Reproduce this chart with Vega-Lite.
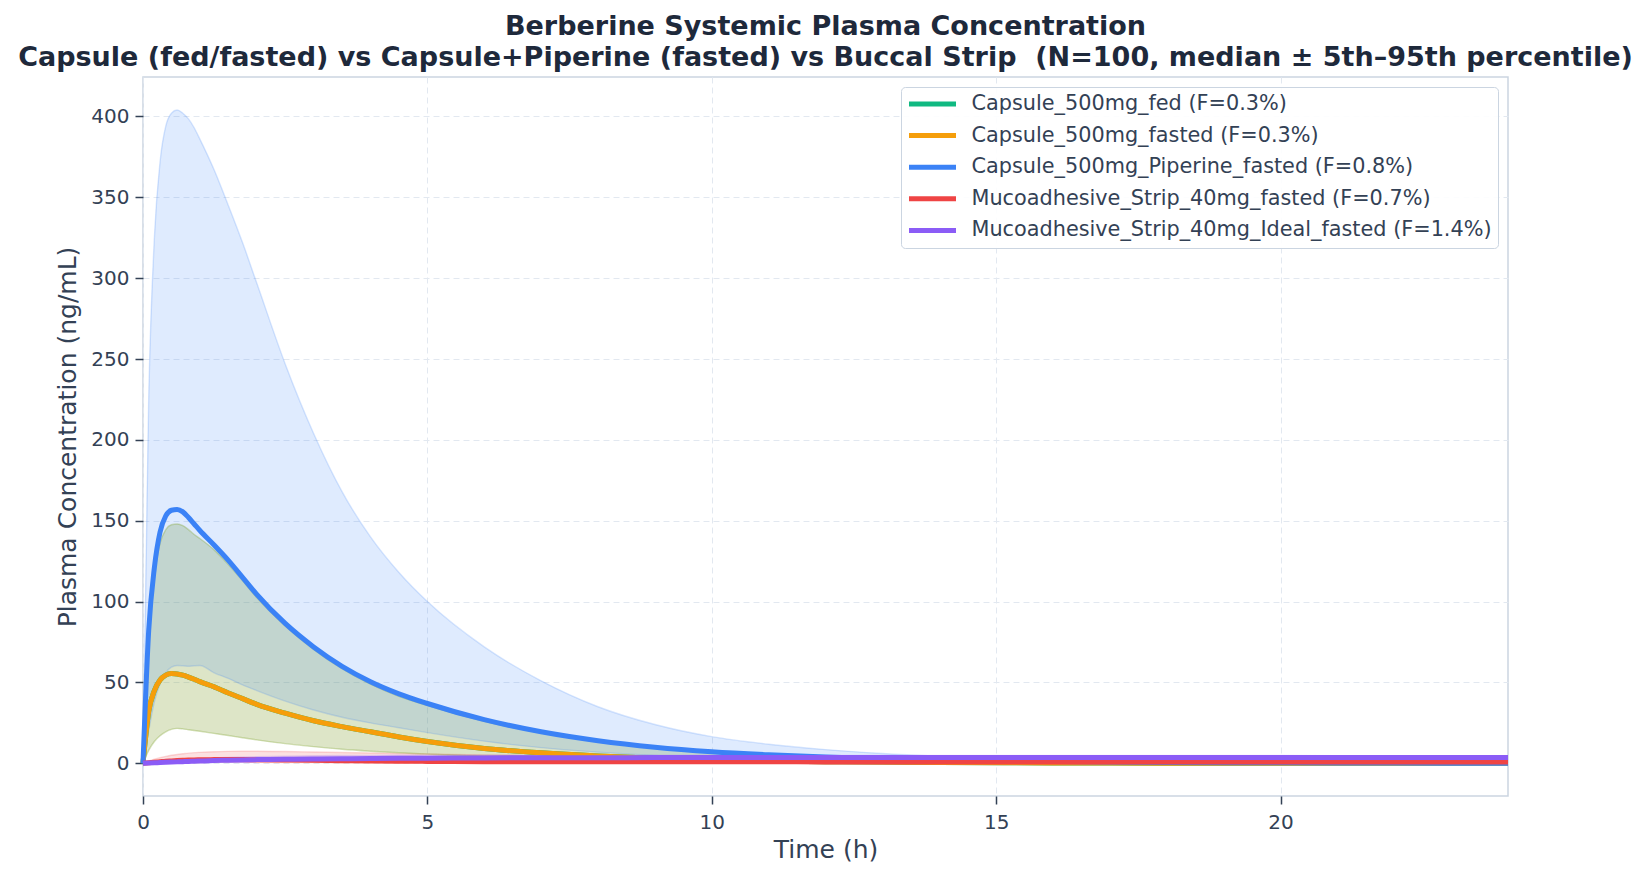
{
  "$schema": "https://vega.github.io/schema/vega-lite/v6.json",
  "autosize": {"type": "none"},
  "padding": {"left": 143, "top": 77, "right": 143, "bottom": 82},
  "width": 1365,
  "height": 719,
  "background": "white",
  "title": {
    "text": ["Berberine Systemic Plasma Concentration", "Capsule (fed/fasted) vs Capsule+Piperine (fasted) vs Buccal Strip \u00a0(N=100, median ± 5th–95th percentile)"],
    "fontSize": 27,
    "fontWeight": "bold",
    "color": "#1e293b",
    "anchor": "middle",
    "frame": "group",
    "offset": 5,
    "lineHeight": 31
  },
  "datasets": {
    "names": [
      {"k": "fed", "label": "Capsule_500mg_fed (F=0.3%)"},
      {"k": "fast", "label": "Capsule_500mg_fasted (F=0.3%)"},
      {"k": "pip", "label": "Capsule_500mg_Piperine_fasted (F=0.8%)"},
      {"k": "strip", "label": "Mucoadhesive_Strip_40mg_fasted (F=0.7%)"},
      {"k": "ideal", "label": "Mucoadhesive_Strip_40mg_Ideal_fasted (F=1.4%)"}
    ],
    "pk": [
      {"k":"fed","t":0,"m":0,"lo":0,"hi":0},
      {"k":"fed","t":0.1,"m":32,"lo":8,"hi":78},
      {"k":"fed","t":0.2,"m":45,"lo":13.5,"hi":116},
      {"k":"fed","t":0.3,"m":51.5,"lo":17,"hi":136},
      {"k":"fed","t":0.4,"m":54.5,"lo":19.5,"hi":144.5},
      {"k":"fed","t":0.5,"m":55.5,"lo":21,"hi":147.5},
      {"k":"fed","t":0.6,"m":55.3,"lo":21.6,"hi":148},
      {"k":"fed","t":0.7,"m":54.5,"lo":21.3,"hi":147},
      {"k":"fed","t":0.8,"m":53.3,"lo":20.8,"hi":144.5},
      {"k":"fed","t":0.9,"m":52,"lo":20.3,"hi":141.5},
      {"k":"fed","t":1,"m":50.5,"lo":19.8,"hi":139},
      {"k":"fed","t":1.25,"m":47.3,"lo":18.5,"hi":132},
      {"k":"fed","t":1.5,"m":43.5,"lo":17.2,"hi":123},
      {"k":"fed","t":1.75,"m":40,"lo":15.8,"hi":113},
      {"k":"fed","t":2,"m":36.5,"lo":14.5,"hi":102.5},
      {"k":"fed","t":2.5,"m":31,"lo":12.2,"hi":85},
      {"k":"fed","t":3,"m":26.3,"lo":10.3,"hi":70.5},
      {"k":"fed","t":3.5,"m":22.7,"lo":8.7,"hi":58.5},
      {"k":"fed","t":4,"m":19.5,"lo":7.5,"hi":49},
      {"k":"fed","t":4.5,"m":16.3,"lo":6.5,"hi":41.5},
      {"k":"fed","t":5,"m":13.5,"lo":5.7,"hi":35.8},
      {"k":"fed","t":6,"m":9.2,"lo":4.2,"hi":26},
      {"k":"fed","t":7,"m":6.5,"lo":3,"hi":18.8},
      {"k":"fed","t":8,"m":4.6,"lo":2.2,"hi":13.5},
      {"k":"fed","t":9,"m":3.2,"lo":1.6,"hi":9.6},
      {"k":"fed","t":10,"m":2.2,"lo":1.2,"hi":6.9},
      {"k":"fed","t":11,"m":1.5,"lo":0.85,"hi":5.1},
      {"k":"fed","t":12,"m":1.05,"lo":0.6,"hi":3.75},
      {"k":"fed","t":13,"m":0.75,"lo":0.42,"hi":2.75},
      {"k":"fed","t":14,"m":0.5,"lo":0.3,"hi":2},
      {"k":"fed","t":16,"m":0.25,"lo":0.15,"hi":1.05},
      {"k":"fed","t":18,"m":0.12,"lo":0.07,"hi":0.54},
      {"k":"fed","t":20,"m":0.06,"lo":0.035,"hi":0.28},
      {"k":"fed","t":22,"m":0.03,"lo":0.017,"hi":0.15},
      {"k":"fed","t":24,"m":0.015,"lo":0.008,"hi":0.075},

      {"k":"fast","t":0,"m":0,"lo":0,"hi":0},
      {"k":"fast","t":0.1,"m":32,"lo":8,"hi":78},
      {"k":"fast","t":0.2,"m":45,"lo":13.5,"hi":116},
      {"k":"fast","t":0.3,"m":51.5,"lo":17,"hi":136},
      {"k":"fast","t":0.4,"m":54.5,"lo":19.5,"hi":144.5},
      {"k":"fast","t":0.5,"m":55.5,"lo":21,"hi":147.5},
      {"k":"fast","t":0.6,"m":55.3,"lo":21.6,"hi":148},
      {"k":"fast","t":0.7,"m":54.5,"lo":21.3,"hi":147},
      {"k":"fast","t":0.8,"m":53.3,"lo":20.8,"hi":144.5},
      {"k":"fast","t":0.9,"m":52,"lo":20.3,"hi":141.5},
      {"k":"fast","t":1,"m":50.5,"lo":19.8,"hi":139},
      {"k":"fast","t":1.25,"m":47.3,"lo":18.5,"hi":132},
      {"k":"fast","t":1.5,"m":43.5,"lo":17.2,"hi":123},
      {"k":"fast","t":1.75,"m":40,"lo":15.8,"hi":113},
      {"k":"fast","t":2,"m":36.5,"lo":14.5,"hi":102.5},
      {"k":"fast","t":2.5,"m":31,"lo":12.2,"hi":85},
      {"k":"fast","t":3,"m":26.3,"lo":10.3,"hi":70.5},
      {"k":"fast","t":3.5,"m":22.7,"lo":8.7,"hi":58.5},
      {"k":"fast","t":4,"m":19.5,"lo":7.5,"hi":49},
      {"k":"fast","t":4.5,"m":16.3,"lo":6.5,"hi":41.5},
      {"k":"fast","t":5,"m":13.5,"lo":5.7,"hi":35.8},
      {"k":"fast","t":6,"m":9.2,"lo":4.2,"hi":26},
      {"k":"fast","t":7,"m":6.5,"lo":3,"hi":18.8},
      {"k":"fast","t":8,"m":4.6,"lo":2.2,"hi":13.5},
      {"k":"fast","t":9,"m":3.2,"lo":1.6,"hi":9.6},
      {"k":"fast","t":10,"m":2.2,"lo":1.2,"hi":6.9},
      {"k":"fast","t":11,"m":1.5,"lo":0.85,"hi":5.1},
      {"k":"fast","t":12,"m":1.05,"lo":0.6,"hi":3.75},
      {"k":"fast","t":13,"m":0.75,"lo":0.42,"hi":2.75},
      {"k":"fast","t":14,"m":0.5,"lo":0.3,"hi":2},
      {"k":"fast","t":16,"m":0.25,"lo":0.15,"hi":1.05},
      {"k":"fast","t":18,"m":0.12,"lo":0.07,"hi":0.54},
      {"k":"fast","t":20,"m":0.06,"lo":0.035,"hi":0.28},
      {"k":"fast","t":22,"m":0.03,"lo":0.017,"hi":0.15},
      {"k":"fast","t":24,"m":0.015,"lo":0.008,"hi":0.075},

      {"k":"pip","t":0,"m":0,"lo":0,"hi":0},
      {"k":"pip","t":0.1,"m":82,"lo":20,"hi":225},
      {"k":"pip","t":0.2,"m":121,"lo":38,"hi":325},
      {"k":"pip","t":0.3,"m":143,"lo":49,"hi":372},
      {"k":"pip","t":0.4,"m":153,"lo":56,"hi":394},
      {"k":"pip","t":0.5,"m":156.5,"lo":59.5,"hi":402},
      {"k":"pip","t":0.6,"m":157,"lo":60.5,"hi":404},
      {"k":"pip","t":0.7,"m":155.5,"lo":60.3,"hi":402},
      {"k":"pip","t":0.8,"m":152,"lo":60,"hi":398.5},
      {"k":"pip","t":0.9,"m":148,"lo":60.3,"hi":393},
      {"k":"pip","t":1,"m":144,"lo":60.5,"hi":386},
      {"k":"pip","t":1.25,"m":135,"lo":56,"hi":367},
      {"k":"pip","t":1.5,"m":125.5,"lo":52.5,"hi":345},
      {"k":"pip","t":1.75,"m":115,"lo":48.5,"hi":322},
      {"k":"pip","t":2,"m":104.5,"lo":45,"hi":297},
      {"k":"pip","t":2.5,"m":86.5,"lo":38.5,"hi":247},
      {"k":"pip","t":3,"m":72,"lo":33,"hi":204},
      {"k":"pip","t":3.5,"m":60,"lo":28.5,"hi":168},
      {"k":"pip","t":4,"m":50.5,"lo":25,"hi":140},
      {"k":"pip","t":4.5,"m":43,"lo":22,"hi":118},
      {"k":"pip","t":5,"m":37,"lo":19,"hi":100},
      {"k":"pip","t":6,"m":27,"lo":13.7,"hi":72},
      {"k":"pip","t":7,"m":19.5,"lo":9.7,"hi":51},
      {"k":"pip","t":8,"m":14,"lo":6.9,"hi":35},
      {"k":"pip","t":9,"m":10,"lo":4.8,"hi":24},
      {"k":"pip","t":10,"m":7.2,"lo":3.4,"hi":16.5},
      {"k":"pip","t":11,"m":5.3,"lo":2.4,"hi":11.8},
      {"k":"pip","t":12,"m":3.9,"lo":1.7,"hi":8.5},
      {"k":"pip","t":13,"m":2.85,"lo":1.2,"hi":6.1},
      {"k":"pip","t":14,"m":2.05,"lo":0.85,"hi":4.4},
      {"k":"pip","t":16,"m":1.1,"lo":0.43,"hi":2.2},
      {"k":"pip","t":18,"m":0.57,"lo":0.21,"hi":1.1},
      {"k":"pip","t":20,"m":0.3,"lo":0.1,"hi":0.55},
      {"k":"pip","t":22,"m":0.16,"lo":0.05,"hi":0.28},
      {"k":"pip","t":24,"m":0.08,"lo":0.025,"hi":0.14},

      {"k":"strip","t":0,"m":0,"lo":0,"hi":0},
      {"k":"strip","t":0.1,"m":0.35,"lo":0.08,"hi":1.3},
      {"k":"strip","t":0.2,"m":0.7,"lo":0.15,"hi":2.5},
      {"k":"strip","t":0.3,"m":1,"lo":0.22,"hi":3.5},
      {"k":"strip","t":0.4,"m":1.3,"lo":0.3,"hi":4.3},
      {"k":"strip","t":0.5,"m":1.5,"lo":0.35,"hi":5},
      {"k":"strip","t":0.6,"m":1.7,"lo":0.4,"hi":5.5},
      {"k":"strip","t":0.7,"m":1.85,"lo":0.45,"hi":5.9},
      {"k":"strip","t":0.8,"m":2,"lo":0.5,"hi":6.3},
      {"k":"strip","t":0.9,"m":2.1,"lo":0.52,"hi":6.6},
      {"k":"strip","t":1,"m":2.2,"lo":0.55,"hi":6.8},
      {"k":"strip","t":1.25,"m":2.3,"lo":0.6,"hi":7.2},
      {"k":"strip","t":1.5,"m":2.35,"lo":0.62,"hi":7.4},
      {"k":"strip","t":1.75,"m":2.3,"lo":0.62,"hi":7.5},
      {"k":"strip","t":2,"m":2.25,"lo":0.6,"hi":7.5},
      {"k":"strip","t":2.5,"m":2.05,"lo":0.55,"hi":7.3},
      {"k":"strip","t":3,"m":1.85,"lo":0.5,"hi":7},
      {"k":"strip","t":3.5,"m":1.65,"lo":0.46,"hi":6.7},
      {"k":"strip","t":4,"m":1.45,"lo":0.42,"hi":6.4},
      {"k":"strip","t":4.5,"m":1.3,"lo":0.4,"hi":6.1},
      {"k":"strip","t":5,"m":1.2,"lo":0.38,"hi":5.8},
      {"k":"strip","t":6,"m":1.05,"lo":0.35,"hi":5.2},
      {"k":"strip","t":7,"m":1,"lo":0.34,"hi":4.7},
      {"k":"strip","t":8,"m":0.97,"lo":0.33,"hi":4.3},
      {"k":"strip","t":9,"m":0.95,"lo":0.32,"hi":4},
      {"k":"strip","t":10,"m":0.93,"lo":0.31,"hi":3.7},
      {"k":"strip","t":11,"m":0.92,"lo":0.3,"hi":3.5},
      {"k":"strip","t":12,"m":0.9,"lo":0.3,"hi":3.3},
      {"k":"strip","t":13,"m":0.9,"lo":0.3,"hi":3.2},
      {"k":"strip","t":14,"m":0.88,"lo":0.29,"hi":3.1},
      {"k":"strip","t":16,"m":0.87,"lo":0.29,"hi":2.95},
      {"k":"strip","t":18,"m":0.85,"lo":0.28,"hi":2.85},
      {"k":"strip","t":20,"m":0.84,"lo":0.28,"hi":2.75},
      {"k":"strip","t":22,"m":0.83,"lo":0.27,"hi":2.7},
      {"k":"strip","t":24,"m":0.82,"lo":0.27,"hi":2.6},

      {"k":"ideal","t":0,"m":0,"lo":0,"hi":0},
      {"k":"ideal","t":0.1,"m":0.15,"lo":0.05,"hi":0.4},
      {"k":"ideal","t":0.2,"m":0.3,"lo":0.1,"hi":0.8},
      {"k":"ideal","t":0.3,"m":0.45,"lo":0.18,"hi":1.2},
      {"k":"ideal","t":0.4,"m":0.6,"lo":0.25,"hi":1.5},
      {"k":"ideal","t":0.5,"m":0.75,"lo":0.3,"hi":1.8},
      {"k":"ideal","t":0.6,"m":0.9,"lo":0.38,"hi":2.1},
      {"k":"ideal","t":0.7,"m":1.05,"lo":0.45,"hi":2.35},
      {"k":"ideal","t":0.8,"m":1.2,"lo":0.52,"hi":2.6},
      {"k":"ideal","t":0.9,"m":1.3,"lo":0.58,"hi":2.8},
      {"k":"ideal","t":1,"m":1.45,"lo":0.65,"hi":3},
      {"k":"ideal","t":1.25,"m":1.7,"lo":0.78,"hi":3.4},
      {"k":"ideal","t":1.5,"m":1.95,"lo":0.9,"hi":3.7},
      {"k":"ideal","t":1.75,"m":2.1,"lo":1,"hi":3.95},
      {"k":"ideal","t":2,"m":2.3,"lo":1.1,"hi":4.15},
      {"k":"ideal","t":2.5,"m":2.5,"lo":1.25,"hi":4.45},
      {"k":"ideal","t":3,"m":2.7,"lo":1.38,"hi":4.65},
      {"k":"ideal","t":3.5,"m":2.85,"lo":1.5,"hi":4.8},
      {"k":"ideal","t":4,"m":3,"lo":1.6,"hi":4.9},
      {"k":"ideal","t":4.5,"m":3.1,"lo":1.68,"hi":5},
      {"k":"ideal","t":5,"m":3.2,"lo":1.75,"hi":5.05},
      {"k":"ideal","t":6,"m":3.35,"lo":1.85,"hi":5.1},
      {"k":"ideal","t":7,"m":3.45,"lo":1.95,"hi":5.1},
      {"k":"ideal","t":8,"m":3.5,"lo":2,"hi":5.1},
      {"k":"ideal","t":9,"m":3.55,"lo":2.05,"hi":5.05},
      {"k":"ideal","t":10,"m":3.6,"lo":2.1,"hi":5},
      {"k":"ideal","t":11,"m":3.6,"lo":2.12,"hi":5},
      {"k":"ideal","t":12,"m":3.6,"lo":2.15,"hi":4.95},
      {"k":"ideal","t":13,"m":3.62,"lo":2.17,"hi":4.9},
      {"k":"ideal","t":14,"m":3.62,"lo":2.18,"hi":4.9},
      {"k":"ideal","t":16,"m":3.62,"lo":2.2,"hi":4.85},
      {"k":"ideal","t":18,"m":3.62,"lo":2.2,"hi":4.8},
      {"k":"ideal","t":20,"m":3.6,"lo":2.2,"hi":4.8},
      {"k":"ideal","t":22,"m":3.6,"lo":2.2,"hi":4.75},
      {"k":"ideal","t":24,"m":3.58,"lo":2.2,"hi":4.7}
    ]
  },
  "data": {"name": "pk"},
  "transform": [
    {"lookup": "k", "from": {"data": {"name": "names"}, "key": "k", "fields": ["label"]}}
  ],
  "encoding": {
    "x": {
      "field": "t",
      "type": "quantitative",
      "title": "Time (h)",
      "scale": {"domain": [0, 24], "nice": false, "zero": false},
      "axis": {"values": [0, 5, 10, 15, 20], "labelFlush": false, "labelPadding": 8, "titlePadding": 5}
    },
    "y": {
      "field": "m",
      "type": "quantitative",
      "title": "Plasma Concentration (ng/mL)",
      "scale": {"domain": [-20.2, 424.4], "nice": false, "zero": false},
      "axis": {"values": [0, 50, 100, 150, 200, 250, 300, 350, 400], "titlePadding": 10}
    },
    "color": {
      "field": "label",
      "type": "nominal",
      "scale": {
        "domain": ["Capsule_500mg_fed (F=0.3%)", "Capsule_500mg_fasted (F=0.3%)", "Capsule_500mg_Piperine_fasted (F=0.8%)", "Mucoadhesive_Strip_40mg_fasted (F=0.7%)", "Mucoadhesive_Strip_40mg_Ideal_fasted (F=1.4%)"],
        "range": ["#10b981", "#f59e0b", "#3b82f6", "#ef4444", "#8b5cf6"]
      },
      "legend": {
        "title": null,
        "orient": "top-right",
        "offset": 10,
        "fillColor": "rgba(255,255,255,0.9)",
        "strokeColor": "#cbd5e1",
        "cornerRadius": 4,
        "padding": 5.5,
        "labelFontSize": 20.8,
        "labelColor": "#334155",
        "labelLimit": 800,
        "labelOffset": 13,
        "symbolType": "stroke",
        "symbolStrokeWidth": 5,
        "symbolOpacity": 1,
        "symbolSize": 2209,
        "rowPadding": 8.6,
        "clipHeight": 23
      }
    }
  },
  "layer": [
    {
      "mark": {"type": "area", "interpolate": "monotone", "opacity": 1, "fillOpacity": 0.16, "strokeWidth": 0},
      "encoding": {
        "y": {"field": "hi", "type": "quantitative"},
        "y2": {"field": "lo"}
      }
    },
    {
      "mark": {"type": "line", "interpolate": "monotone", "strokeWidth": 1.4, "opacity": 0.2},
      "encoding": {"y": {"field": "hi", "type": "quantitative"}}
    },
    {
      "mark": {"type": "line", "interpolate": "monotone", "strokeWidth": 1.4, "opacity": 0.2},
      "encoding": {"y": {"field": "lo", "type": "quantitative"}}
    },
    {
      "mark": {"type": "line", "interpolate": "monotone", "strokeWidth": 5},
      "encoding": {}
    }
  ],
  "config": {
    "font": "DejaVu Sans",
    "view": {"stroke": "#cbd5e1", "strokeWidth": 1.5},
    "axis": {
      "domain": false,
      "grid": true,
      "gridColor": "#e2e8f0",
      "gridDash": [6, 4],
      "gridWidth": 1,
      "tickColor": "#334155",
      "tickWidth": 1.5,
      "tickSize": 8,
      "labelFontSize": 20,
      "labelColor": "#334155",
      "labelPadding": 6,
      "titleFontSize": 25,
      "titleFontWeight": "normal",
      "titleColor": "#334155"
    }
  }
}
